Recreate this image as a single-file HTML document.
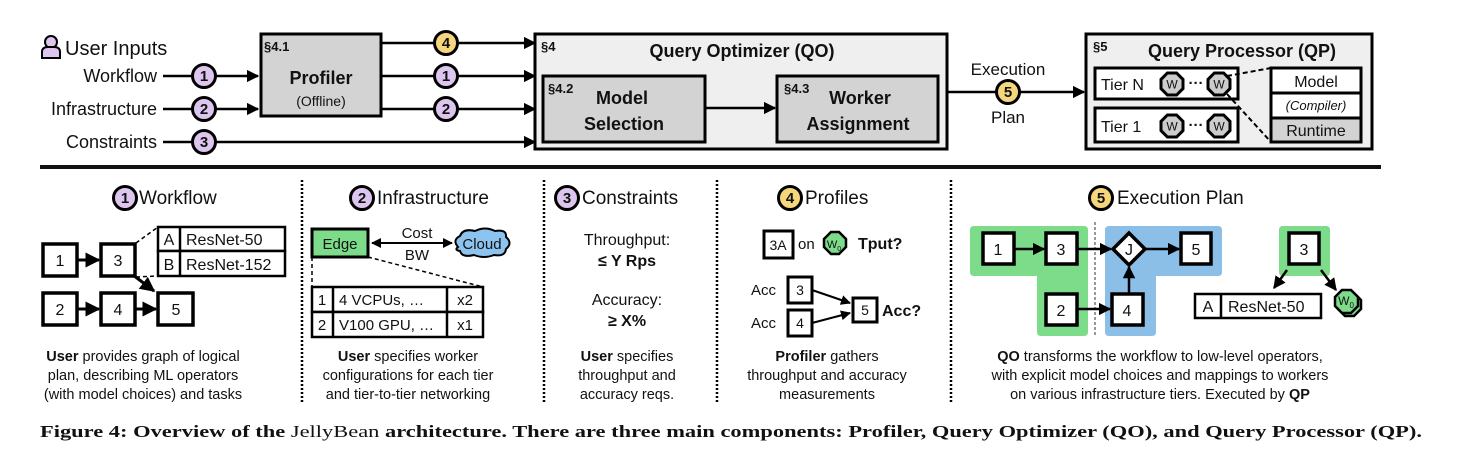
<!DOCTYPE html>
<html><head><meta charset="utf-8"><style>
html,body{margin:0;padding:0;background:#fff;}
svg{display:block;}
text{font-family:"Liberation Sans",sans-serif;fill:#111;}
.b{font-weight:bold;}
</style></head><body>
<svg width="1469" height="455" viewBox="0 0 1469 455" xmlns="http://www.w3.org/2000/svg">
<defs>
<marker id="ar" viewBox="0 0 10 10" refX="9" refY="5" markerWidth="5" markerHeight="5" orient="auto-start-reverse"><path d="M0,0 L10,5 L0,10 z" fill="#000"/></marker>
<g id="oc"><polygon points="-4.6,-11 4.6,-11 11,-4.6 11,4.6 4.6,11 -4.6,11 -11,4.6 -11,-4.6" fill="#ccc" stroke="#000" stroke-width="3"/><text x="0" y="4.5" font-size="12" text-anchor="middle">W</text></g>
</defs>

<!-- ===== TOP ===== -->
<g fill="#dcc6ee" stroke="#000" stroke-width="2">
<circle cx="51" cy="42" r="6"/>
<path d="M42,58 L42,52 Q42,47 48,47 L54,47 Q60,47 60,52 L60,58 Z"/>
</g>
<text x="65" y="55" font-size="20">User Inputs</text>
<text x="157" y="82" font-size="18" text-anchor="end">Workflow</text>
<text x="157" y="115" font-size="18" text-anchor="end">Infrastructure</text>
<text x="157" y="148" font-size="18" text-anchor="end">Constraints</text>

<g stroke="#000" stroke-width="2.5" fill="none">
<line x1="163" y1="76" x2="258" y2="76" marker-end="url(#ar)"/>
<line x1="163" y1="109" x2="258" y2="109" marker-end="url(#ar)"/>
<line x1="163" y1="142" x2="535" y2="142" marker-end="url(#ar)"/>
<line x1="382" y1="43" x2="535" y2="43" marker-end="url(#ar)"/>
<line x1="382" y1="76" x2="535" y2="76" marker-end="url(#ar)"/>
<line x1="382" y1="109" x2="535" y2="109" marker-end="url(#ar)"/>
<line x1="948" y1="92" x2="1084" y2="92" marker-end="url(#ar)"/>
</g>
<g stroke="#000" stroke-width="3">
<circle cx="204" cy="76" r="11.5" fill="#dcc6ee"/>
<circle cx="204" cy="109" r="11.5" fill="#dcc6ee"/>
<circle cx="204" cy="142" r="11.5" fill="#dcc6ee"/>
<circle cx="446" cy="43" r="11.5" fill="#f6d67c"/>
<circle cx="446" cy="76" r="11.5" fill="#dcc6ee"/>
<circle cx="446" cy="109" r="11.5" fill="#dcc6ee"/>
<circle cx="1008" cy="92" r="11.5" fill="#f6d67c"/>
</g>
<g font-size="15" font-weight="bold" text-anchor="middle">
<text x="204" y="81" class="b">1</text><text x="204" y="114" class="b">2</text><text x="204" y="147" class="b">3</text>
<text x="446" y="48" class="b">4</text><text x="446" y="81" class="b">1</text><text x="446" y="114" class="b">2</text>
<text x="1008" y="97" class="b">5</text>
</g>

<!-- Profiler -->
<rect x="261" y="34" width="120" height="82" fill="#d3d3d3" stroke="#000" stroke-width="3"/>
<text x="264" y="51" font-size="13" class="b">§4.1</text>
<text x="321" y="84" font-size="18" class="b" text-anchor="middle">Profiler</text>
<text x="321" y="106" font-size="14" text-anchor="middle">(Offline)</text>

<!-- QO -->
<rect x="535" y="34" width="412" height="115" fill="#efefef" stroke="#000" stroke-width="3"/>
<text x="541" y="51" font-size="13" class="b">§4</text>
<text x="742" y="57" font-size="18" class="b" text-anchor="middle">Query Optimizer (QO)</text>
<rect x="543" y="76" width="162" height="66" fill="#d3d3d3" stroke="#000" stroke-width="3"/>
<text x="548" y="93" font-size="13" class="b">§4.2</text>
<text x="622" y="104" font-size="18" class="b" text-anchor="middle">Model</text>
<text x="624" y="130" font-size="18" class="b" text-anchor="middle">Selection</text>
<line x1="706" y1="108" x2="775" y2="108" stroke="#000" stroke-width="2.5" marker-end="url(#ar)"/>
<rect x="777" y="76" width="161" height="66" fill="#d3d3d3" stroke="#000" stroke-width="3"/>
<text x="784" y="93" font-size="13" class="b">§4.3</text>
<text x="860" y="104" font-size="18" class="b" text-anchor="middle">Worker</text>
<text x="858" y="130" font-size="18" class="b" text-anchor="middle">Assignment</text>

<text x="1008" y="75" font-size="17" text-anchor="middle">Execution</text>
<text x="1008" y="123" font-size="17" text-anchor="middle">Plan</text>

<!-- QP -->
<rect x="1086" y="34" width="286" height="115" fill="#efefef" stroke="#000" stroke-width="3"/>
<text x="1093" y="51" font-size="13" class="b">§5</text>
<text x="1242" y="57" font-size="18" class="b" text-anchor="middle">Query Processor (QP)</text>
<rect x="1095" y="68" width="143" height="31" fill="#fff" stroke="#000" stroke-width="3"/>
<rect x="1095" y="108" width="143" height="34" fill="#fff" stroke="#000" stroke-width="3"/>
<text x="1101" y="90" font-size="16">Tier N</text>
<text x="1101" y="132" font-size="16">Tier 1</text>
<use href="#oc" x="1172" y="84"/><use href="#oc" x="1219" y="84"/>
<use href="#oc" x="1172" y="126"/><use href="#oc" x="1219" y="126"/>
<text x="1196" y="88" font-size="15" text-anchor="middle" class="b">···</text>
<text x="1196" y="130" font-size="15" text-anchor="middle" class="b">···</text>
<rect x="1271" y="68" width="90" height="74" fill="#fff" stroke="#000" stroke-width="3"/>
<rect x="1271" y="118" width="90" height="24" fill="#d3d3d3" stroke="#000" stroke-width="3"/>
<line x1="1271" y1="93" x2="1361" y2="93" stroke="#000" stroke-width="3"/>
<text x="1316" y="87" font-size="16" text-anchor="middle">Model</text>
<text x="1316" y="110" font-size="13" font-style="italic" text-anchor="middle">(Compiler)</text>
<text x="1316" y="136" font-size="16" text-anchor="middle">Runtime</text>
<g stroke="#000" stroke-width="2" stroke-dasharray="5,3">
<line x1="1227" y1="76" x2="1271" y2="68"/>
<line x1="1227" y1="94" x2="1271" y2="142"/>
</g>

<line x1="40" y1="167" x2="1381" y2="167" stroke="#111" stroke-width="4"/>

<!-- separators -->
<g stroke="#000" stroke-width="2.5" stroke-dasharray="2,2">
<line x1="302" y1="180" x2="302" y2="402"/>
<line x1="544" y1="180" x2="544" y2="402"/>
<line x1="717" y1="180" x2="717" y2="402"/>
<line x1="951" y1="180" x2="951" y2="402"/>
</g>

<!-- headers -->
<g stroke="#000" stroke-width="3">
<circle cx="125" cy="198" r="11.5" fill="#dcc6ee"/>
<circle cx="362" cy="198" r="11.5" fill="#dcc6ee"/>
<circle cx="567" cy="198" r="11.5" fill="#dcc6ee"/>
<circle cx="790" cy="198" r="11.5" fill="#f6d67c"/>
<circle cx="1101" cy="198" r="11.5" fill="#f6d67c"/>
</g>
<g font-size="15" font-weight="bold" text-anchor="middle">
<text x="125" y="203">1</text><text x="362" y="203">2</text><text x="567" y="203">3</text><text x="790" y="203">4</text><text x="1101" y="203">5</text>
</g>
<g font-size="19">
<text x="139" y="204">Workflow</text>
<text x="377" y="204">Infrastructure</text>
<text x="582" y="204">Constraints</text>
<text x="805" y="204">Profiles</text>
<text x="1117" y="204">Execution Plan</text>
</g>

<!-- Panel 1 -->
<g fill="#fff" stroke="#000" stroke-width="3.5">
<rect x="43" y="244" width="34" height="32"/>
<rect x="101" y="244" width="34" height="32"/>
<rect x="43" y="293" width="34" height="32"/>
<rect x="101" y="293" width="34" height="32"/>
<rect x="158" y="293" width="35" height="32"/>
</g>
<g fill="#fff" stroke="#000" stroke-width="2.5">
<rect x="158" y="227" width="127" height="24"/>
<rect x="158" y="251" width="127" height="25"/>
<line x1="180" y1="227" x2="180" y2="276"/>
</g>
<g font-size="16" text-anchor="middle">
<text x="60" y="266">1</text><text x="118" y="266">3</text><text x="60" y="315">2</text><text x="118" y="315">4</text><text x="176" y="315">5</text>
<text x="169" y="245">A</text><text x="169" y="270">B</text>
</g>
<text x="186" y="245" font-size="16">ResNet-50</text>
<text x="186" y="270" font-size="16">ResNet-152</text>
<g stroke="#000" stroke-width="3">
<line x1="78" y1="260" x2="99" y2="260" marker-end="url(#ar)"/>
<line x1="78" y1="309" x2="99" y2="309" marker-end="url(#ar)"/>
<line x1="136" y1="309" x2="156" y2="309" marker-end="url(#ar)"/>
<line x1="133" y1="275" x2="154" y2="291" marker-end="url(#ar)"/>
</g>
<g stroke="#000" stroke-width="1.5" stroke-dasharray="4,3">
<line x1="136" y1="243" x2="158" y2="227"/>
<line x1="136" y1="277" x2="158" y2="276"/>
</g>
<g font-size="14.5" text-anchor="middle">
<text x="143" y="361"><tspan class="b">User</tspan> provides graph of logical</text>
<text x="143" y="380">plan, describing ML operators</text>
<text x="143" y="399">(with model choices) and tasks</text>
</g>

<!-- Panel 2 -->
<rect x="312" y="229" width="56" height="28" fill="#7ddc8a" stroke="#000" stroke-width="3"/>
<text x="340" y="249" font-size="15" text-anchor="middle">Edge</text>
<line x1="372" y1="243" x2="452" y2="243" stroke="#000" stroke-width="2" marker-start="url(#ar)" marker-end="url(#ar)"/>
<text x="417" y="238" font-size="15" text-anchor="middle">Cost</text>
<text x="417" y="260" font-size="15" text-anchor="middle">BW</text>
<path d="M458,247 Q452,240 460,236 Q463,228 475,231 Q485,226 495,231 Q507,229 506,237 Q513,243 506,249 Q505,257 494,255 Q484,259 474,255 Q462,258 460,251 Q454,250 458,247 Z" fill="#8cc4ef" stroke="#000" stroke-width="2"/>
<text x="482" y="249" font-size="15" text-anchor="middle">Cloud</text>
<g stroke="#000" stroke-width="1.5" stroke-dasharray="4,3">
<line x1="312" y1="257" x2="312" y2="287"/>
<line x1="368" y1="257" x2="483" y2="287"/>
</g>
<g fill="#fff" stroke="#000" stroke-width="2.5">
<rect x="312" y="287" width="171" height="25"/>
<rect x="312" y="312" width="171" height="25"/>
<line x1="333" y1="287" x2="333" y2="337"/>
<line x1="447" y1="287" x2="447" y2="337"/>
</g>
<g font-size="15">
<text x="322" y="305" text-anchor="middle">1</text><text x="322" y="330" text-anchor="middle">2</text>
<text x="339" y="305">4 VCPUs, …</text><text x="339" y="330">V100 GPU, …</text>
<text x="465" y="305" text-anchor="middle">x2</text><text x="465" y="330" text-anchor="middle">x1</text>
</g>
<g font-size="14.5" text-anchor="middle">
<text x="408" y="361"><tspan class="b">User</tspan> specifies worker</text>
<text x="408" y="380">configurations for each tier</text>
<text x="408" y="399">and tier-to-tier networking</text>
</g>

<!-- Panel 3 -->
<g font-size="16" text-anchor="middle">
<text x="627" y="245">Throughput:</text>
<text x="627" y="266" class="b">≤ Y Rps</text>
<text x="627" y="305">Accuracy:</text>
<text x="627" y="326" class="b">≥ X%</text>
</g>
<g font-size="14.5" text-anchor="middle">
<text x="627" y="361"><tspan class="b">User</tspan> specifies</text>
<text x="627" y="380">throughput and</text>
<text x="627" y="399">accuracy reqs.</text>
</g>

<!-- Panel 4 -->
<rect x="764" y="231" width="29" height="27" fill="#fff" stroke="#000" stroke-width="3"/>
<text x="778" y="250" font-size="14" text-anchor="middle">3A</text>
<text x="798" y="249" font-size="15">on</text>
<polygon points="831,232 839,232 846,239 846,247 839,254 831,254 824,247 824,239" fill="#7ddc8a" stroke="#000" stroke-width="2.5"/>
<text x="834" y="248" font-size="11" text-anchor="middle">W<tspan font-size="7" dy="3">0</tspan></text>
<text x="858" y="249" font-size="16" class="b">Tput?</text>
<g fill="#fff" stroke="#000" stroke-width="3">
<rect x="788" y="277" width="24" height="26"/>
<rect x="788" y="310" width="24" height="26"/>
<rect x="853" y="298" width="24" height="24"/>
</g>
<g font-size="14" text-anchor="middle">
<text x="800" y="295">3</text><text x="800" y="328">4</text><text x="865" y="315">5</text>
</g>
<text x="751" y="295" font-size="15">Acc</text>
<text x="751" y="328" font-size="15">Acc</text>
<text x="882" y="316" font-size="16" class="b">Acc?</text>
<g stroke="#000" stroke-width="2">
<line x1="812" y1="290" x2="850" y2="303" marker-end="url(#ar)"/>
<line x1="812" y1="323" x2="850" y2="313" marker-end="url(#ar)"/>
</g>
<g font-size="14.5" text-anchor="middle">
<text x="827" y="361"><tspan class="b">Profiler</tspan> gathers</text>
<text x="827" y="380">throughput and accuracy</text>
<text x="827" y="399">measurements</text>
</g>

<!-- Panel 5 -->
<path d="M974,226 H1084 Q1088,226 1088,230 V332 Q1088,336 1084,336 H1041 Q1037,336 1037,332 V276 H974 Q970,276 970,272 V230 Q970,226 974,226 Z" fill="#7ddc8a"/>
<path d="M1109,226 H1218 Q1222,226 1222,230 V272 Q1222,276 1218,276 H1156 V332 Q1156,336 1152,336 H1109 Q1105,336 1105,332 V230 Q1105,226 1109,226 Z" fill="#8cbfe8"/>
<path d="M1283,226 H1326 Q1330,226 1330,230 V272 Q1330,276 1326,276 H1283 Q1279,276 1279,272 V230 Q1279,226 1283,226 Z" fill="#7ddc8a"/>
<line x1="1095" y1="222" x2="1095" y2="336" stroke="#555" stroke-width="1.2" stroke-dasharray="3,2"/>
<g fill="#fff" stroke="#000" stroke-width="3.5">
<rect x="983" y="233" width="31" height="31"/>
<rect x="1046" y="233" width="31" height="31"/>
<rect x="1181" y="233" width="30" height="31"/>
<rect x="1046" y="294" width="31" height="31"/>
<rect x="1112" y="294" width="31" height="31"/>
<rect x="1289" y="233" width="30" height="31"/>
<polygon points="1129,233 1145,249 1129,265 1113,249"/>
</g>
<g font-size="16" text-anchor="middle">
<text x="998" y="255">1</text><text x="1061" y="255">3</text><text x="1196" y="255">5</text>
<text x="1061" y="316">2</text><text x="1127" y="316">4</text><text x="1129" y="255">J</text><text x="1304" y="255">3</text>
</g>
<g stroke="#000" stroke-width="2.5">
<line x1="1014" y1="249" x2="1044" y2="249" marker-end="url(#ar)"/>
<line x1="1077" y1="249" x2="1111" y2="249" marker-end="url(#ar)"/>
<line x1="1146" y1="249" x2="1179" y2="249" marker-end="url(#ar)"/>
<line x1="1077" y1="309" x2="1110" y2="309" marker-end="url(#ar)"/>
<line x1="1129" y1="293" x2="1129" y2="267" marker-end="url(#ar)"/>
<line x1="1287" y1="270" x2="1274" y2="288" marker-end="url(#ar)"/>
<line x1="1321" y1="270" x2="1336" y2="290" marker-end="url(#ar)"/>
</g>
<g fill="#fff" stroke="#000" stroke-width="2.5">
<rect x="1195" y="294" width="126" height="24"/>
<line x1="1221" y1="294" x2="1221" y2="318"/>
</g>
<text x="1208" y="312" font-size="16" text-anchor="middle">A</text>
<text x="1228" y="312" font-size="16">ResNet-50</text>
<polygon points="1345,293 1354,293 1361,300 1361,309 1354,316 1345,316 1338,309 1338,300" fill="#7ddc8a" stroke="#000" stroke-width="2.5"/>
<polygon points="1342,290 1351,290 1358,297 1358,306 1351,313 1342,313 1335,306 1335,297" fill="#7ddc8a" stroke="#000" stroke-width="2.5"/>
<text x="1346" y="305" font-size="12" text-anchor="middle">W<tspan font-size="8" dy="3">0</tspan></text>
<g font-size="14.5" text-anchor="middle">
<text x="1160" y="361"><tspan class="b">QO</tspan> transforms the workflow to low-level operators,</text>
<text x="1160" y="380">with explicit model choices and mappings to workers</text>
<text x="1160" y="399">on various infrastructure tiers. Executed by <tspan class="b">QP</tspan></text>
</g>

<!-- caption -->
<text x="40" y="437" font-size="17" textLength="1382" lengthAdjust="spacingAndGlyphs" style="font-family:'Liberation Serif',serif"><tspan font-weight="bold">Figure 4: Overview of the </tspan><tspan>JellyBean</tspan><tspan font-weight="bold"> architecture. There are three main components: Profiler, Query Optimizer (QO), and Query Processor (QP).</tspan></text>
</svg>
</body></html>
